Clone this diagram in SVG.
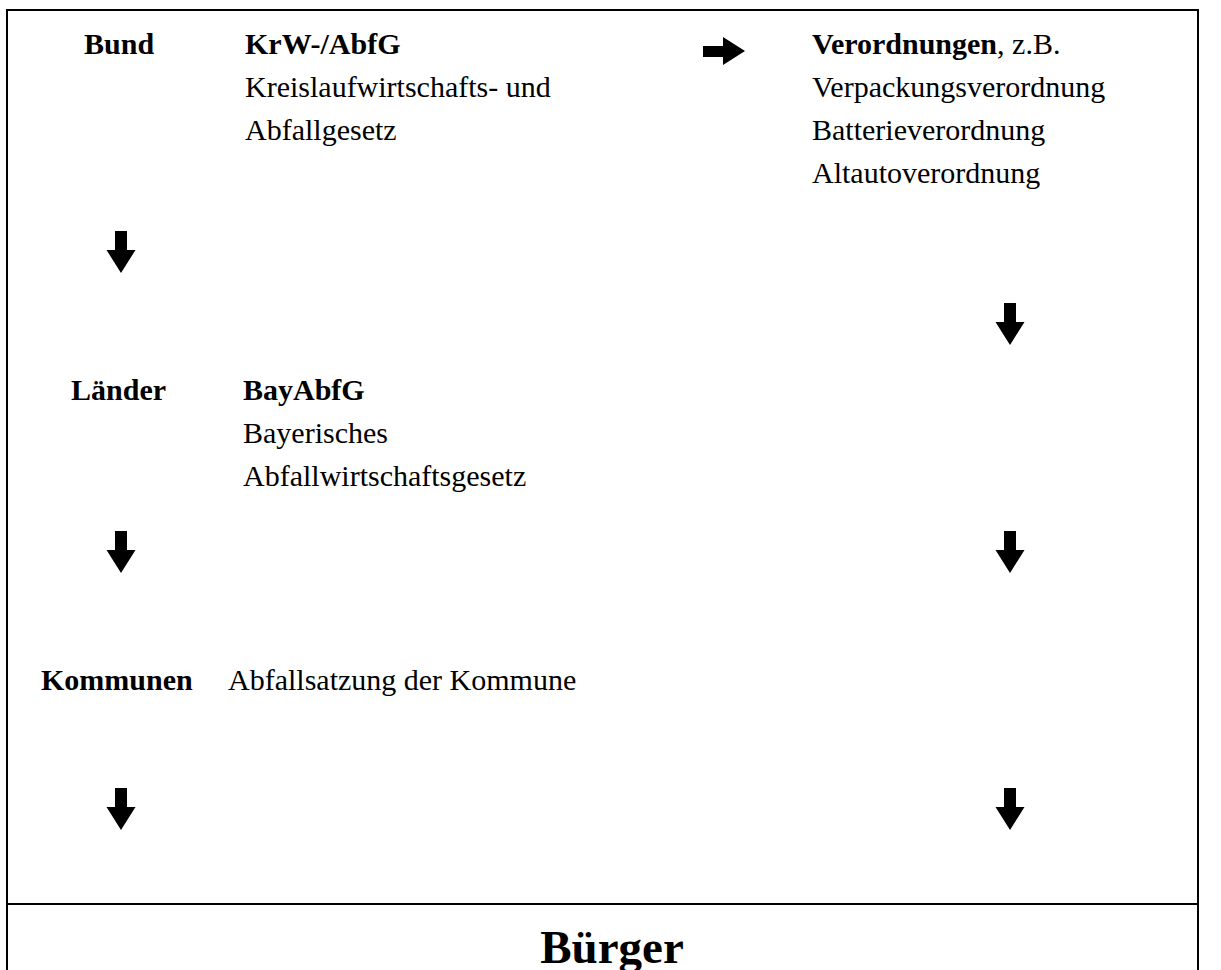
<svg xmlns="http://www.w3.org/2000/svg" width="1221" height="970" viewBox="0 0 1221 970">
<style>
text{font-family:"Liberation Serif","Times New Roman",serif;font-size:30px;fill:#000}
.b{font-weight:bold}
.frame{fill:none;stroke:#000;stroke-width:2}
.arr{fill:#000}
</style>
<defs>
<path id="down" d="M-6,0 H6 V19 H14.5 L0,42 L-14.5,19 H-6 Z"/>
</defs>
<rect width="1221" height="970" fill="#fff"/>
<g id="frame">
<path class="frame" d="M7,971 V10 H1198 V971"/>
<line class="frame" x1="7" y1="904" x2="1198" y2="904"/>
</g>
<g id="bund">
<text class="b" x="84" y="54">Bund</text>
<text class="b" x="245" y="54">KrW-/AbfG</text>
<text x="245" y="97">Kreislaufwirtschafts- und</text>
<text x="245" y="140">Abfallgesetz</text>
</g>
<g id="verordnungen">
<text x="812" y="54"><tspan class="b">Verordnungen</tspan>, z.B.</text>
<text x="812" y="97">Verpackungsverordnung</text>
<text x="812" y="140">Batterieverordnung</text>
<text x="812" y="183">Altautoverordnung</text>
</g>
<g id="laender">
<text class="b" x="71" y="400">Länder</text>
<text class="b" x="243" y="400">BayAbfG</text>
<text x="243" y="443">Bayerisches</text>
<text x="243" y="486">Abfallwirtschaftsgesetz</text>
</g>
<g id="kommunen">
<text class="b" x="41" y="690">Kommunen</text>
<text x="228" y="690">Abfallsatzung der Kommune</text>
</g>
<g id="buerger">
<text class="b" x="612" y="963" text-anchor="middle" style="font-size:47px">Bürger</text>
</g>
<g id="connectors" class="arr">
<path d="M703,46 H723 V37 L745,51 L723,65 V57 H703 Z"/>
<use href="#down" x="121" y="231"/>
<use href="#down" x="121" y="531"/>
<use href="#down" x="121" y="788"/>
<use href="#down" x="1010" y="303"/>
<use href="#down" x="1010" y="531"/>
<use href="#down" x="1010" y="788"/>
</g>
</svg>
